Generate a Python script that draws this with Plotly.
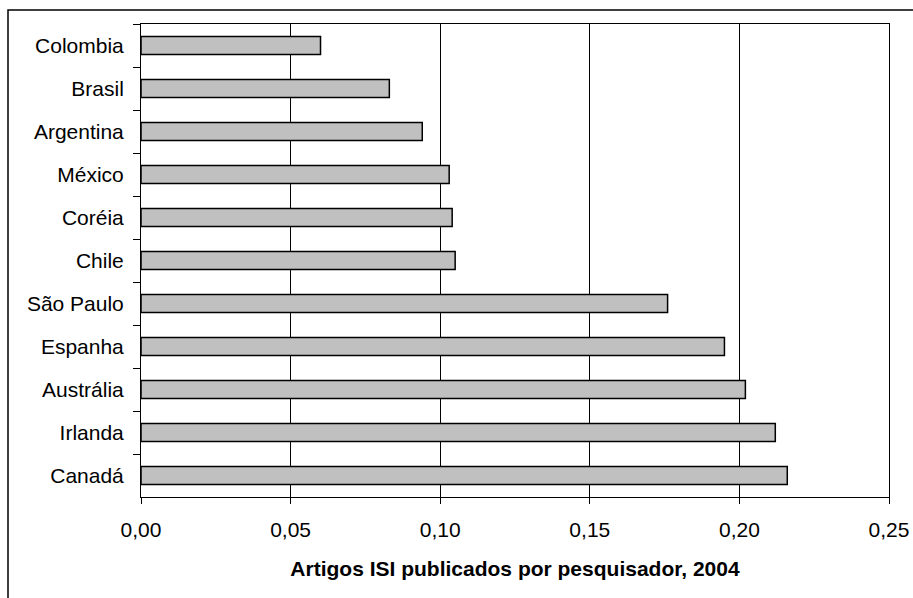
import plotly.graph_objects as go

# Artigos ISI publicados por pesquisador em 2004
paises = ["Colombia", "Brasil", "Argentina", "México", "Coréia", "Chile",
          "São Paulo", "Espanha", "Austrália", "Irlanda", "Canadá"]
artigos = [0.060, 0.083, 0.094, 0.103, 0.104, 0.105,
           0.176, 0.195, 0.202, 0.212, 0.216]
x_ticks = [0.00, 0.05, 0.10, 0.15, 0.20, 0.25]

W, H = 913, 598
L, R, T, B = 141, 24, 24, 101
pw, ph = W - L - R, H - T - B

fig = go.Figure(go.Bar(
    x=artigos, y=paises, orientation="h",
    marker=dict(color="#C0C0C0", line=dict(color="#000000", width=1.5)),
    hoverinfo="x+y",
))

font = "Arial, 'Liberation Sans', sans-serif"

fig.update_layout(
    width=W, height=H,
    margin=dict(l=L, r=R, t=T, b=B, pad=0),
    paper_bgcolor="white", plot_bgcolor="white",
    separators=",.",
    bargap=0.58,
    showlegend=False,
    font=dict(family=font, size=21, color="#000000"),
    xaxis=dict(
        range=[0, 0.25], tickvals=x_ticks, tickformat=".2f",
        automargin=False,
        showgrid=True, gridcolor="#000000", gridwidth=1,
        showline=True, linecolor="#000000", linewidth=1, mirror=True,
        ticks="outside", ticklen=6, tickcolor="#000000", tickwidth=1,
        ticklabelstandoff=8,
        zeroline=False,
        title=dict(text="<b>Artigos ISI publicados por pesquisador, 2004</b>",
                   font=dict(size=21), standoff=21),
    ),
    yaxis=dict(
        autorange="reversed", type="category",
        automargin=False,
        showline=True, linecolor="#000000", linewidth=1, mirror=True,
        ticks="outside", ticklen=7, tickcolor="#000000", tickwidth=1,
        tickson="boundaries", ticklabelstandoff=12,
        showgrid=False, zeroline=False,
    ),
)

# Chart frame around the whole figure (left and top edges visible)
fig.add_shape(
    type="rect", xref="paper", yref="paper",
    x0=(8 - L) / pw, x1=(W + 10 - L) / pw,
    y0=(H - B - (H + 10)) / ph, y1=(H - B - 10) / ph,
    line=dict(color="#000000", width=1.5), fillcolor="rgba(0,0,0,0)",
    layer="above",
)

fig.write_html("out.html")
